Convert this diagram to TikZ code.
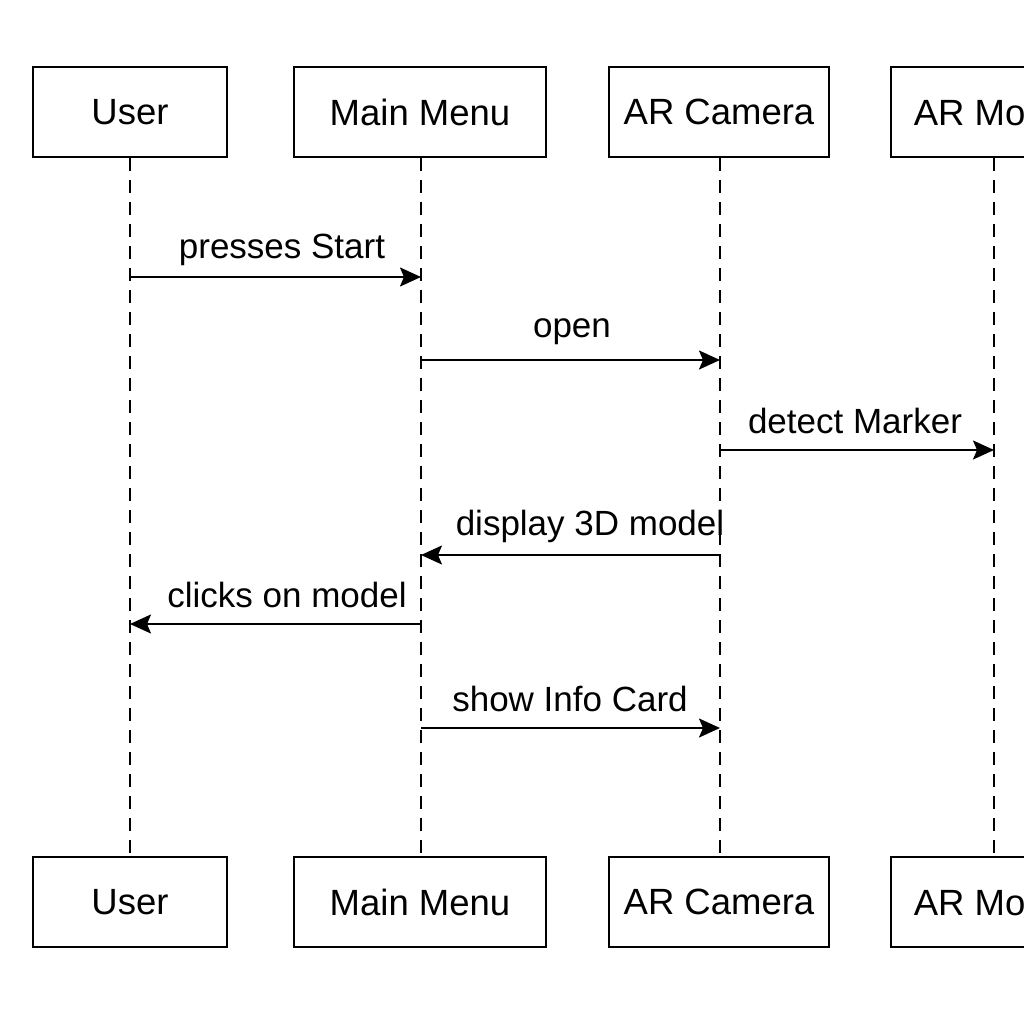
\documentclass[tikz,border=0pt]{standalone}
\usepackage{fontspec}
\setmainfont{Liberation Sans}
\usetikzlibrary{arrows.meta}
\begin{document}
\begin{tikzpicture}[x=1pt,y=-1pt,
  actor/.style={draw,line width=2pt,minimum height=90pt,inner sep=0pt,font=\fontsize{36.5}{42}\selectfont},
  life/.style={line width=2pt,dash pattern=on 13pt off 9pt},
  msg/.style={line width=2pt,-{Stealth[length=21pt,width=19pt,inset=4pt]}},
  lbl/.style={font=\fontsize{35}{40}\selectfont,inner sep=0pt}]
\useasboundingbox (0,0) rectangle (1024,1024);
\clip (0,0) rectangle (1024,1024);
\fill[white] (0,0) rectangle (1024,1024);
% top boxes
\node[actor,minimum width=194pt] (u1) at (130,112) {User};
\node[actor,minimum width=252pt] (m1) at (420,112) {Main Menu};
\node[actor,minimum width=220pt] (c1) at (719,112) {AR Camera};
\node[actor,minimum width=206pt] (r1) at (994,112) {AR Model};
% bottom boxes
\node[actor,minimum width=194pt] (u2) at (130,902) {User};
\node[actor,minimum width=252pt] (m2) at (420,902) {Main Menu};
\node[actor,minimum width=220pt] (c2) at (719,902) {AR Camera};
\node[actor,minimum width=206pt] (r2) at (994,902) {AR Model};
% lifelines
\draw[life] (u1.south) -- (u2.north);
\draw[life] ([xshift=1pt]m1.south) -- ([xshift=1pt]m2.north);
\draw[life] ([xshift=1pt]c1.south) -- ([xshift=1pt]c2.north);
\draw[life] (r1.south) -- (r2.north);
% message anchors
\coordinate (uA) at (130,277); \coordinate (mA) at (421,277);
\coordinate (mB) at (421,360); \coordinate (cB) at (720,360);
\coordinate (cC) at (720,450); \coordinate (rC) at (994,450);
\coordinate (cD) at (720,555); \coordinate (mD) at (421,555);
\coordinate (mE) at (421,624); \coordinate (uE) at (130,624);
\coordinate (mF) at (421,728); \coordinate (cF) at (720,728);
% messages
\draw[msg] (uA) -- (mA);
\draw[msg] (mB) -- (cB);
\draw[msg] (cC) -- (rC);
\draw[msg] (cD) -- (mD);
\draw[msg] (mE) -- (uE);
\draw[msg] (mF) -- (cF);
% labels
\node[lbl] (l1) at (282,250) {presses Start};
\node[lbl] (l2) at (572,332) {open};
\node[lbl] (l3) at (855,421) {detect Marker};
\node[lbl] (l4) at (590,526) {display 3D model};
\node[lbl] (l5) at (287,595) {clicks on model};
\node[lbl] (l6) at (570,699) {show Info Card};
\end{tikzpicture}
\end{document}
